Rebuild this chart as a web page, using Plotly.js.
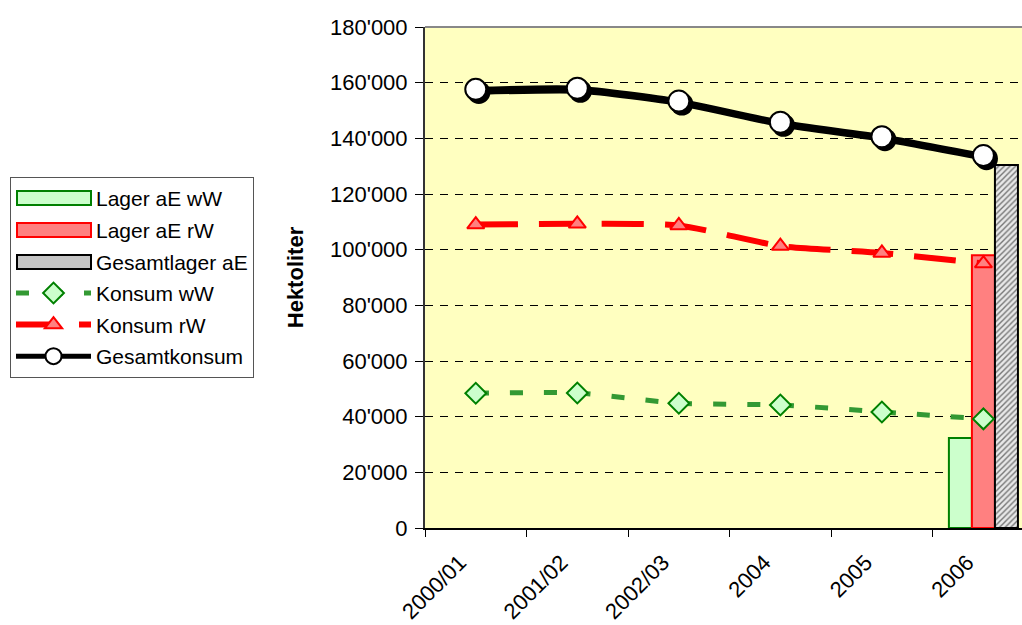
<!DOCTYPE html>
<html>
<head>
<meta charset="utf-8">
<script src="https://cdn.plot.ly/plotly-3.0.1.min.js"></script>
<style>
html,body{margin:0;padding:0;background:#fff;overflow:hidden;}
#chart{width:1022px;height:625px;}
</style>
</head>
<body>
<div id="chart"></div>
<script>
const categories = ["2000/01", "2001/02", "2002/03", "2004", "2005", "2006"];
const lagerWW = [null, null, null, null, null, 32300];
const lagerRW = [null, null, null, null, null, 98000];
const gesamtLager = [null, null, null, null, null, 130400];
const konsumWW = [48400, 48500, 44800, 44200, 41700, 39200];
const konsumRW = [109000, 109300, 108700, 101300, 98800, 95000];
const gesamtKonsum = [157600, 158000, 153400, 145800, 140600, 133800];
const yTickVals = [0, 20000, 40000, 60000, 80000, 100000, 120000, 140000, 160000, 180000];
const yTickText = ["0", "20'000", "40'000", "60'000", "80'000", "100'000", "120'000", "140'000", "160'000", "180'000"];

const FONT = "Arial, 'Liberation Sans', sans-serif";
const W = 1022, H = 625, ML = 425, MR = 0, MT = 27, MB = 97;
const xRange = [-0.5, 5.38];
const yRange = [0, 180000];
// shadow offset (~3px right and down)
const dx = 0.03, dy = 1100;

const barStyles = [
  {name: 'Lager aE wW', data: lagerWW, fill: '#CCFFCC', line: '#008000'},
  {name: 'Lager aE rW', data: lagerRW, fill: '#FF8080', line: '#FF0000'},
  {name: 'Gesamtlager aE', data: gesamtLager, fill: '#DDDDDD', line: '#000000',
   pattern: {shape: '/', fgcolor: '#777777', bgcolor: '#E8E8E8', size: 4, solidity: 0.35}}
];

const traces = [];
// real bars (no legend)
barStyles.forEach(b => {
  const m = {color: b.fill, line: {color: b.line, width: 2}};
  if (b.pattern) m.pattern = b.pattern;
  traces.push({type: 'bar', name: b.name, x: categories, y: b.data, xaxis: 'x', yaxis: 'y',
               showlegend: false, marker: m});
});
// legend carriers for bars (invisible, on a separate overlay)
barStyles.forEach((b, i) => {
  traces.push({type: 'bar', name: b.name, x: categories, y: b.data, xaxis: 'x4', yaxis: 'y4',
               showlegend: true, hoverinfo: 'skip', legendgroup: 'g' + i,
               marker: {color: 'rgba(0,0,0,0)', line: {color: 'rgba(0,0,0,0)', width: 0}}});
});
traces.push(
  {type: 'scatter', mode: 'lines+markers', name: 'Gesamtkonsum shadow', showlegend: false, hoverinfo: 'skip',
   x: categories, y: gesamtKonsum, xaxis: 'x2', yaxis: 'y2',
   line: {color: '#000000', width: 5, shape: 'spline', smoothing: 0.6},
   marker: {symbol: 'circle', size: 23, color: '#000000', line: {width: 0}}},
  {type: 'scatter', mode: 'lines+markers', name: 'Konsum wW', x: categories, y: konsumWW, xaxis: 'x3', yaxis: 'y3',
   legendgroup: 'g3',
   line: {color: '#339933', width: 5, dash: '13px,21px', shape: 'spline', smoothing: 0.6},
   marker: {symbol: 'diamond', size: 16, color: '#CCFFCC', line: {color: '#008000', width: 2}}},
  {type: 'scatter', mode: 'lines+markers', name: 'Konsum rW', x: categories, y: konsumRW, xaxis: 'x3', yaxis: 'y3',
   legendgroup: 'g4',
   line: {color: '#FF0000', width: 6, dash: '42px,21px', shape: 'spline', smoothing: 0.6},
   marker: {symbol: 'triangle-up', size: 15, color: '#FF8080', line: {color: '#FF0000', width: 2}}},
  {type: 'scatter', mode: 'lines+markers', name: 'Gesamtkonsum', x: categories, y: gesamtKonsum, xaxis: 'x3', yaxis: 'y3',
   legendgroup: 'g5',
   line: {color: '#000000', width: 5, shape: 'spline', smoothing: 0.6},
   marker: {symbol: 'circle', size: 21, color: '#FFFFFF', line: {color: '#000000', width: 2}}}
);

const hiddenX = {type: 'category', categoryarray: categories, visible: false, showgrid: false, zeroline: false, fixedrange: true};
const hiddenY = {visible: false, showgrid: false, zeroline: false, fixedrange: true};

// pixel -> paper helpers for legend swatches
const pw = W - ML - MR, ph = H - MT - MB;
const xp = px => (px - ML) / pw;
const yp = py => (H - MB - py) / ph;
const swatchCenters = [198, 230, 262];
const legendSwatches = barStyles.map((b, i) => ({
  type: 'rect', xref: 'paper', yref: 'paper', layer: 'above',
  x0: xp(17), x1: xp(91), y0: yp(swatchCenters[i] - 7), y1: yp(swatchCenters[i] + 7),
  fillcolor: b.pattern ? '#C4C4C4' : b.fill, line: {color: b.line, width: 2}
}));

const layout = {
  width: W, height: H,
  margin: {l: ML, r: MR, t: MT, b: MB, pad: 0},
  paper_bgcolor: '#FFFFFF',
  plot_bgcolor: '#FFFFC0',
  font: {family: FONT, size: 22, color: '#000000'},
  barmode: 'group', bargap: 0.32, bargroupgap: 0,
  showlegend: true,
  legend: {
    xref: 'container', yref: 'container',
    x: 10/W, y: 1 - 177/H, xanchor: 'left', yanchor: 'top',
    bgcolor: 'rgba(0,0,0,0)', bordercolor: '#555555', borderwidth: 1,
    font: {family: FONT, size: 21, color: '#000000'},
    itemwidth: 75, traceorder: 'grouped', tracegroupgap: 1.3
  },
  xaxis: {
    type: 'category', categoryarray: categories, range: xRange,
    tickson: 'boundaries', ticks: 'outside', ticklen: 7, tickwidth: 1, tickcolor: '#000000',
    tickangle: -45, tickfont: {family: FONT, size: 22},
    ticklabelstandoff: 11, ticklabelshift: -16,
    showline: true, linecolor: '#000000', linewidth: 2,
    showgrid: false, zeroline: false, fixedrange: true, automargin: false
  },
  yaxis: {
    range: yRange, tickvals: yTickVals, ticktext: yTickText,
    ticks: 'outside', ticklen: 8, tickwidth: 1, tickcolor: '#000000',
    tickfont: {family: FONT, size: 22}, ticklabelstandoff: 3,
    showline: true, linecolor: '#333333', linewidth: 2,
    showgrid: true, gridcolor: '#000000', gridwidth: 1, griddash: '8px,7px',
    zeroline: false, fixedrange: true, automargin: false,
    title: {text: 'Hektoliter', font: {family: FONT, size: 22, weight: 'bold'}, standoff: 20}
  },
  xaxis2: Object.assign({}, hiddenX, {overlaying: 'x', range: [xRange[0] - dx, xRange[1] - dx]}),
  yaxis2: Object.assign({}, hiddenY, {overlaying: 'y', range: [yRange[0] + dy, yRange[1] + dy]}),
  xaxis3: Object.assign({}, hiddenX, {overlaying: 'x', range: xRange}),
  yaxis3: Object.assign({}, hiddenY, {overlaying: 'y', range: yRange}),
  xaxis4: Object.assign({}, hiddenX, {overlaying: 'x', range: xRange}),
  yaxis4: Object.assign({}, hiddenY, {overlaying: 'y', range: yRange}),
  shapes: [
    {type: 'line', xref: 'paper', yref: 'paper', x0: 0, x1: 1, y0: 1, y1: 1,
     line: {color: '#888888', width: 2}}
  ].concat(legendSwatches)
};

Plotly.newPlot('chart', traces, layout, {displayModeBar: false, staticPlot: true});
</script>
</body>
</html>
